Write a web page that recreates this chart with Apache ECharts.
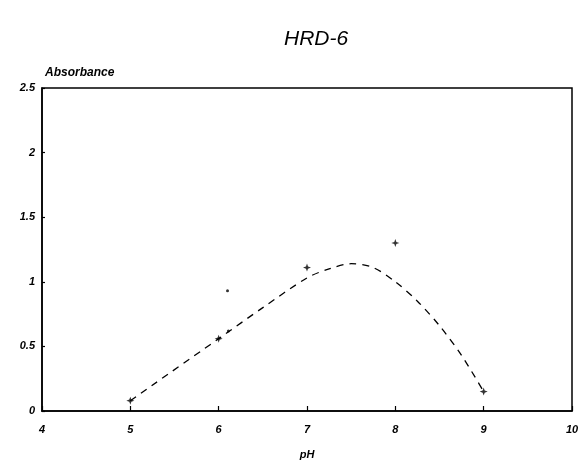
<!DOCTYPE html>
<html>
<head>
<meta charset="utf-8">
<script src="https://cdn.jsdelivr.net/npm/echarts@6/dist/echarts.min.js"></script>
<style>
  html, body { margin: 0; padding: 0; background: #fff; }
  #chart { width: 588px; height: 470px; }
</style>
</head>
<body>
<div id="chart"></div>
<script>
// Measured absorbance at each pH
const measuredPH = [5, 6, 7, 8, 9];
const measuredAbs = [0.08, 0.56, 1.11, 1.30, 0.15];

// Extra replicate readings near pH 6
const replicatePH = [6.1, 6.11];
const replicateAbs = [0.93, 0.62];

// Fitted response curve
const fitPH = [5, 6, 6.5, 7, 7.25, 7.5, 7.75, 8, 8.25, 8.5, 8.75, 9];
const fitAbs = [0.08, 0.56, 0.80, 1.03, 1.10, 1.14, 1.11, 1.00, 0.85, 0.66, 0.43, 0.15];

const xTicks = [4, 5, 6, 7, 8, 9, 10];
const yTicks = [0, 0.5, 1, 1.5, 2, 2.5];

const font = '"Liberation Sans", Arial, sans-serif';
const labelStyle = { color: '#000', fontFamily: font, fontStyle: 'italic', fontWeight: 'bold', fontSize: 11 };

const chart = echarts.init(document.getElementById('chart'));
chart.setOption({
  backgroundColor: '#fff',
  animation: false,
  title: {
    text: 'HRD-6',
    left: 279,
    top: 24,
    textStyle: { color: '#000', fontFamily: font, fontStyle: 'italic', fontWeight: 'normal', fontSize: 21 }
  },
  grid: { left: 42, right: 16, top: 88, bottom: 59, show: true, borderColor: '#000', borderWidth: 1.5, backgroundColor: 'transparent' },
  xAxis: {
    type: 'value',
    min: xTicks[0],
    max: xTicks[xTicks.length - 1],
    interval: 1,
    name: 'pH',
    nameLocation: 'middle',
    nameGap: 38,
    nameTextStyle: Object.assign({}, labelStyle, { fontSize: 11 }),
    axisLine: { show: true, lineStyle: { color: '#000', width: 1.5 } },
    axisTick: { show: true, inside: true, length: 5, lineStyle: { color: '#000', width: 1.2 } },
    axisLabel: Object.assign({}, labelStyle, { margin: 13 }),
    splitLine: { show: false }
  },
  yAxis: {
    type: 'value',
    min: yTicks[0],
    max: yTicks[yTicks.length - 1],
    interval: 0.5,
    name: 'Absorbance',
    nameLocation: 'end',
    nameGap: 9,
    nameTextStyle: Object.assign({}, labelStyle, { fontSize: 12, align: 'left', padding: [0, 0, 0, 3] }),
    axisLine: { show: true, lineStyle: { color: '#000', width: 1.5 } },
    axisTick: { show: true, inside: true, length: 3, lineStyle: { color: '#000', width: 1.2 } },
    axisLabel: Object.assign({}, labelStyle, { margin: 7 }),
    splitLine: { show: false }
  },
  series: [
    {
      name: 'fit',
      type: 'line',
      data: fitPH.map((x, i) => [x, fitAbs[i]]),
      smooth: 0.3,
      showSymbol: false,
      lineStyle: { color: '#000', width: 1.3, type: [7, 6] },
      z: 2
    },
    {
      name: 'measured',
      type: 'scatter',
      data: measuredPH.map((x, i) => [x, measuredAbs[i]]),
      symbol: 'path://M0,-5L1.3,-1.3L5,0L1.3,1.3L0,5L-1.3,1.3L-5,0L-1.3,-1.3Z',
      symbolSize: 8,
      itemStyle: { color: '#000' },
      z: 3
    },
    {
      name: 'replicate',
      type: 'scatter',
      data: replicatePH.map((x, i) => [x, replicateAbs[i]]),
      symbol: 'circle',
      symbolSize: 3,
      itemStyle: { color: '#000' },
      z: 3
    }
  ]
});
</script>
</body>
</html>
